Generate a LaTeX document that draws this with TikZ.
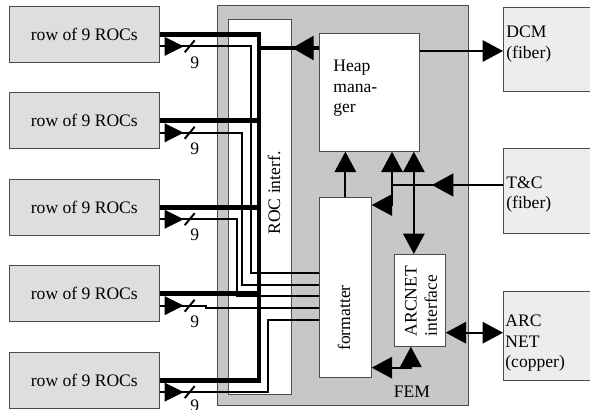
\documentclass[tikz,border=0pt]{standalone}
\usepackage{fontspec}
\setmainfont{Liberation Serif}
\usetikzlibrary{arrows.meta,positioning,calc,decorations.markings}

\definecolor{rowgray}{gray}{0.87}
\definecolor{femgray}{gray}{0.78}
\definecolor{extgray}{gray}{0.93}
\definecolor{edgegray}{gray}{0.3}

\begin{document}
\begin{tikzpicture}[
x=0.02cm, y=-0.02cm,
node distance=0.595cm,
every node/.style={font=\fontsize{10}{11.5}\selectfont},
rocrow/.style={draw=edgegray, fill=rowgray, minimum width=3cm, minimum height=1.12cm, inner sep=0pt},
block/.style={draw=edgegray, fill=white, inner sep=0pt, anchor=north west},
extbox/.style={draw=edgegray, fill=extgray, minimum width=1.78cm, inner sep=0pt, anchor=north west},
label/.style={anchor=north west, align=left, inner sep=0pt},
bus/.style={line width=2.8pt},
sig/.style={line width=1.1pt},
arrow/.style={sig, -{Triangle[length=4.1mm, width=4.3mm]}},
both/.style={sig, {Triangle[length=4.1mm, width=4.3mm]}-{Triangle[length=4.1mm, width=4.3mm]}},
inarrow/.style={sig, -{Triangle[length=3.8mm, width=3.7mm]}},
midarrow/.style={postaction={decorate, decoration={markings, mark=at position #1 with {\arrow{Triangle[length=4.3mm, width=4.6mm]}}}}}
]
\useasboundingbox (0,0) rectangle (590,409);

% front end module
\node[draw=edgegray, fill=femgray, minimum width=5.02cm, minimum height=8cm, inner sep=0pt, anchor=north west] (fem) at (217,5) {};
\node[block, minimum width=1.26cm, minimum height=7.5cm] (roc) at (228,19) {};
\node[block, minimum width=2cm, minimum height=2.36cm] (heap) at (319,33) {};
\node[block, minimum width=1.04cm, minimum height=3.6cm] (fmt) at (319,197) {};
\node[block, minimum width=1.02cm, minimum height=1.84cm] (arc) at (394,254) {};

\node[rotate=90] (roct) at (274,193) {ROC interf.};
\node[label] (heapt) at (333,60) {Heap\\mana-\\ger};
\node[rotate=90] (fmtt) at (344,318) {formatter};
\node[rotate=90, align=left] (arct) at (421,301) {ARCNET\\interface};
\node (femt) at (412,392) {FEM};

% rows of ROCs
\node[rocrow, anchor=north west] (r1) at (9,6) {row of 9 ROCs\hspace{0.2cm}};
\node[rocrow, below=of r1] (r2) {row of 9 ROCs\hspace{0.2cm}};
\node[rocrow, below=of r2] (r3) {row of 9 ROCs\hspace{0.2cm}};
\node[rocrow, below=of r3] (r4) {row of 9 ROCs\hspace{0.2cm}};
\node[rocrow, below=of r4] (r5) {row of 9 ROCs\hspace{0.2cm}};

% outside links
\node[extbox, minimum height=1.68cm] (dcm) at (503,7) {};
\node[extbox, minimum height=1.7cm] (tc) at (503,148) {};
\node[extbox, minimum height=1.78cm] (net) at (503,291) {};
\node[label] (dcmt) at (506,26) {DCM\\(fiber)};
\node[label] (tct) at (506,176) {T\&C\\(fiber)};
\node[label] (nett) at (505,315) {ARC\\NET\\(copper)};

% thick bus
\coordinate (busx) at (259,0);
\draw[bus] (r1.east) -| (r5.east -| busx) -- (r5.east);
\draw[bus] (r2.east) -- (r2.east -| busx);
\draw[bus] (r3.east) -- (r3.east -| busx);
\draw[bus] (r4.east) -- (r4.east -| busx);
\coordinate (hp) at ($(heap.north west)+(0,15)$);
\draw[bus, midarrow=0.45] (hp) -- (hp -| busx);

% data lines into the formatter
\coordinate (s1) at ($(r1.east)+(0,12)$);
\coordinate (s2) at ($(r2.east)+(0,12)$);
\coordinate (s3) at ($(r3.east)+(0,12)$);
\coordinate (s4) at ($(r4.east)+(0,12)$);
\coordinate (s5) at ($(r5.east)+(0,12)$);
\coordinate (f1) at ($(fmt.north west)+(0,76)$);
\coordinate (f2) at ($(fmt.north west)+(0,88)$);
\coordinate (f3) at ($(fmt.north west)+(0,99)$);
\coordinate (f4) at ($(fmt.north west)+(0,111)$);
\coordinate (f5) at ($(fmt.north west)+(0,123)$);
\draw[sig] (s1) -| ($(f1)+(-68,0)$) -- (f1);
\draw[sig] (s2) -| ($(f2)+(-77,0)$) -- (f2);
\draw[sig] (s3) -| ($(f3)+(-82,0)$) -- (f3);
\draw[sig] (s4) -- ++(46,0) |- (f4);
\draw[sig] (s5) -| ($(f5)+(-51,0)$) -- (f5);

\draw[inarrow] (s1) -- ++(24,0);
\draw[inarrow] (s2) -- ++(24,0);
\draw[inarrow] (s3) -- ++(24,0);
\draw[inarrow] (s4) -- ++(24,0);
\draw[inarrow] (s5) -- ++(24,0);
\draw[sig] ($(s1)+(25,6)$) -- ($(s1)+(35,-6)$);
\draw[sig] ($(s2)+(25,6)$) -- ($(s2)+(35,-6)$);
\draw[sig] ($(s3)+(25,6)$) -- ($(s3)+(35,-6)$);
\draw[sig] ($(s4)+(25,6)$) -- ($(s4)+(35,-6)$);
\draw[sig] ($(s5)+(25,6)$) -- ($(s5)+(35,-6)$);
\node (n1) at ($(s1)+(35,16)$) {9};
\node (n2) at ($(s2)+(35,16)$) {9};
\node (n3) at ($(s3)+(35,16)$) {9};
\node (n4) at ($(s4)+(35,16)$) {9};
\node (n5) at ($(s5)+(35,14)$) {9};

% heap manager links
\coordinate (hd) at ($(heap.north east)+(0,18)$);
\draw[arrow] (hd) -- (hd -| dcm.west);
\coordinate (tw) at ($(tc.north west)+(0,37)$);
\coordinate (tj) at (392,185);
\draw[sig, midarrow=0.64] (tw) -- (tj);
\draw[arrow] (tj) -- (tj |- heap.south);
\draw[arrow] (tj) |- ($(fmt.north east)+(0,8)$);
\draw[arrow] (fmt.north) -- (fmt.north |- heap.south);
\coordinate (au) at ($(arc.north)+(-6,0)$);
\draw[both] (au) -- (au |- heap.south);
\coordinate (ar) at ($(arc.south east)+(0,-14)$);
\draw[both] (ar) -- (ar -| net.west);
\draw[both] ($(fmt.south east)+(0,-10)$) -| ($(arc.south)+(-9,0)$);
\end{tikzpicture}
\end{document}
